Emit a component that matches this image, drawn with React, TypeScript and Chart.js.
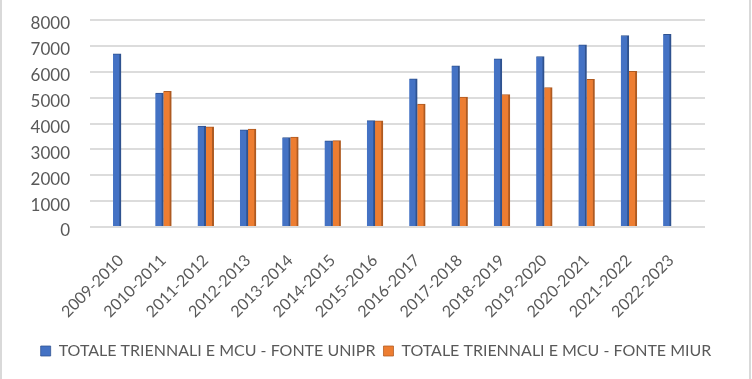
import React, { useEffect, useRef } from "react";
import { Chart, registerables } from "chart.js";

Chart.register(...registerables);

const categories = [
  "2009-2010", "2010-2011", "2011-2012", "2012-2013", "2013-2014", "2014-2015", "2015-2016",
  "2016-2017", "2017-2018", "2018-2019", "2019-2020", "2020-2021", "2021-2022", "2022-2023",
];
const unipr = [6690, 5180, 3900, 3760, 3460, 3330, 4110, 5730, 6230, 6500, 6590, 7040, 7400, 7450];
const miur: (number | null)[] = [null, 5240, 3870, 3780, 3480, 3340, 4100, 4750, 5020, 5120, 5390, 5710, 6020, null];
const seriesNames = ["TOTALE TRIENNALI E MCU - FONTE UNIPR", "TOTALE TRIENNALI E MCU - FONTE MIUR"];
const yTicks = [0, 1000, 2000, 3000, 4000, 5000, 6000, 7000, 8000];

const FONT = "Lato, 'Liberation Sans', sans-serif";
const TEXT = "#595959";

export default function App() {
  const ref = useRef<HTMLCanvasElement | null>(null);
  useEffect(() => {
    if (!ref.current) return;
    const toPts = (arr: (number | null)[]) => arr.map((v, i) => ({ x: i, y: v }));
    const chart = new Chart(ref.current, {
      type: "bar",
      data: {
        datasets: [
          {
            label: seriesNames[0],
            data: toPts(unipr) as any,
            backgroundColor: "#4472C4",
            borderColor: "#2F528F",
            borderWidth: { top: 1, right: 2, bottom: 0, left: 0 },
            borderSkipped: false,
            barThickness: 8,
          },
          {
            label: seriesNames[1],
            data: toPts(miur) as any,
            backgroundColor: "#ED7D31",
            borderColor: "#AE5A21",
            borderWidth: { top: 1, right: 2, bottom: 0, left: 0 },
            borderSkipped: false,
            barThickness: 8,
          },
        ],
      },
      options: {
        responsive: false,
        animation: false,
        layout: { padding: { top: 20, right: 0, left: 0, bottom: 10 } },
        plugins: {
          tooltip: { enabled: false },
          legend: {
            position: "bottom",
            labels: {
              boxWidth: 10,
              boxHeight: 10,
              padding: 8,
              color: TEXT,
              font: { family: FONT, size: 16 },
            },
          },
        },
        scales: {
          x: {
            type: "linear",
            min: -0.733,
            max: 13.8,
            offset: false,
            grid: { display: false, drawTicks: false },
            border: { display: false },
            afterFit: (s: any) => { s.height = 108; },
            afterBuildTicks: (s: any) => { s.ticks = categories.map((_, i) => ({ value: i })); },
            ticks: {
              autoSkip: false,
              minRotation: 45,
              maxRotation: 45,
              padding: 24,
              color: TEXT,
              font: { family: FONT, size: 16 },
              callback: (v: any) => categories[v] ?? "",
            },
          },
          y: {
            min: 0,
            max: 8000,
            afterFit: (s: any) => { s.width = 90; },
            afterBuildTicks: (s: any) => { s.ticks = yTicks.map((v) => ({ value: v })); },
            grid: { color: "#dcdcdc", lineWidth: 2, drawTicks: true, tickLength: 20, tickColor: "rgba(0,0,0,0)" },
            border: { display: false },
            ticks: {
              padding: 0,
              labelOffset: 4,
              color: TEXT,
              font: { family: FONT, size: 17 },
              callback: (v: any) => String(v),
            },
          },
          yRight: {
            position: "right",
            display: true,
            min: 0,
            max: 8000,
            afterFit: (s: any) => { s.width = 47; },
            grid: { drawOnChartArea: false, drawTicks: false },
            border: { display: false },
            ticks: { display: false },
          },
        },
      },
    });
    return () => chart.destroy();
  }, []);
  return (
    <div style={{ position: "fixed", left: 0, top: 0, width: 752, height: 379, background: "#fff" }}>
      <canvas ref={ref} width={752} height={379} style={{ position: "absolute", left: 0, top: 0 }} />
      <div
        style={{
          position: "absolute", left: 0, top: 0, width: 751, height: 379, boxSizing: "border-box",
          borderLeft: "2px solid #d9d9d9", borderRight: "2px solid #d9d9d9", pointerEvents: "none",
        }}
      />
    </div>
  );
}
